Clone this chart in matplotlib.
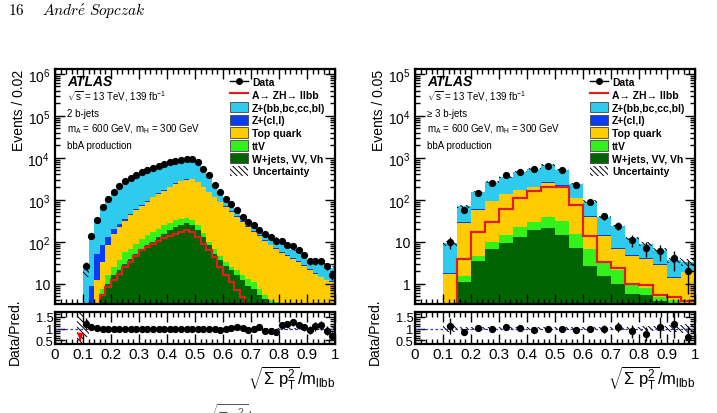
import numpy as np
import matplotlib
matplotlib.use("Agg")
import matplotlib.pyplot as plt
from matplotlib.lines import Line2D
from matplotlib.patches import Patch
from matplotlib.ticker import FuncFormatter, MultipleLocator, LogLocator, NullFormatter

plt.rcParams['font.family'] = ['Liberation Sans', 'DejaVu Sans']
plt.rcParams['mathtext.fontset'] = 'custom'
plt.rcParams['mathtext.rm'] = 'Liberation Sans'
plt.rcParams['mathtext.it'] = 'Liberation Sans'
plt.rcParams['mathtext.bf'] = 'Liberation Sans:bold'
plt.rcParams['mathtext.default'] = 'regular'
plt.rcParams['hatch.linewidth'] = 0.7

# ---------------- 2 b-jets (bins of 0.02 from 0.08 to 1.0) ----------------
edges_2b = np.linspace(0.08, 1.0, 47)
data_2b = [0, 27, 137, 334, 690, 1050, 1510, 2120, 2750, 3320, 3960, 4570, 5160, 5840, 6540,
           7200, 7920, 8530, 8990, 9550, 9400, 7920, 5480, 3800, 2190, 1510, 1050, 800, 556,
           386, 303, 245, 186, 155, 129, 104, 107, 86, 79, 62, 49, 34, 34, 34, 26, 16]
ratio_2b = [0, 1.21, 1.08, 1.02, 1.0, 1.0, 0.99, 1.0, 1.0, 1.0, 1.0, 1.0, 1.0, 1.0, 1.0, 1.0,
            1.0, 1.0, 1.0, 1.0, 1.0, 1.0, 0.99, 1.0, 0.98, 0.93, 1.0, 1.03, 1.08, 1.04, 0.95,
            0.97, 1.05, 0.91, 0.91, 0.84, 1.17, 1.2, 1.26, 1.13, 1.05, 0.95, 1.1, 1.14, 0.91, 0.68]
# upper edge of each stacked layer
wjets_2b = [0, 0, 0, 0.5, 5.3, 10, 16, 21, 30, 39, 52, 68, 82, 98, 130, 155, 186, 225, 254, 282,
            254, 186, 130, 82, 52, 36, 27, 21, 16, 12, 9, 7.6, 5.3, 4.4, 3.5, 3, 2.5, 2, 1.7, 1.5,
            1.2, 1, 0.8, 0.7, 0.6, 0.5]
ttv_2b = [0, 0, 0, 0.8, 7.6, 16, 25, 36, 57, 68, 90, 118, 142, 170, 205, 245, 282, 322, 355, 365,
          322, 245, 165, 98, 68, 47, 33, 25, 21, 16, 13, 11, 7.6, 5.3, 4, 3.6, 3.3, 3, 2.7, 2.4,
          2, 1.8, 1.5, 1.3, 1.1, 1.0]
top_2b = [0, 1.5, 2.5, 12, 33, 82, 150, 230, 320, 430, 560, 730, 910, 1150, 1380, 1660, 2000,
          2400, 2750, 3000, 3050, 2620, 2000, 1510, 1150, 880, 670, 510, 386, 295, 225, 170, 137,
          107, 82, 68, 55, 47, 39, 33, 27, 21, 17, 14.4, 12, 11]
zcl_2b = [0, 2, 9, 52, 82, 129, 205, 270, 350, 460, 590, 760, 945, 1190, 1430, 1720, 2070, 2480,
          2840, 3100, 3150, 2710, 2070, 1560, 1190, 910, 695, 530, 400, 305, 233, 176, 142, 111,
          85, 70, 57, 49, 40, 34, 28, 22, 17.6, 14.9, 12.4, 11.4]
total_2b = [1.0, 22, 127, 327, 690, 1060, 1540, 2120, 2750, 3320, 3960, 4570, 5160, 5840, 6540,
            7200, 7920, 8530, 8990, 9550, 9400, 7920, 5480, 3800, 2190, 1620, 1050, 777, 515, 371,
            319, 253, 177, 170, 142, 124, 91, 72, 63, 55, 47, 36, 31, 30, 29, 24]
signal_2b = [0, 0, 0, 0, 5.3, 8.4, 12, 17, 25, 33, 47, 62, 75, 90, 107, 122, 137, 155, 170, 186,
             170, 130, 90, 62, 43, 25, 16, 11, 7, 4.8, 3.0, 2.0, 1.5, 1.0, 0.8, 0.6, 0.5, 0.4,
             0.3, 0.3, 0.2, 0.2, 0.2, 0.1, 0.1, 0.1]
unc_2b = [0.9, 0.35, 0.1, 0.05, 0.03, 0.02, 0.02, 0.02, 0.02, 0.02, 0.02, 0.02, 0.02, 0.02, 0.02,
          0.02, 0.02, 0.02, 0.02, 0.02, 0.02, 0.02, 0.02, 0.02, 0.02, 0.02, 0.02, 0.02, 0.03, 0.03,
          0.03, 0.03, 0.03, 0.03, 0.03, 0.03, 0.04, 0.04, 0.04, 0.04, 0.05, 0.05, 0.05, 0.06, 0.06,
          0.08]

# ---------------- >= 3 b-jets (bins of 0.05 from 0.10 to 1.0) ----------------
edges_3b = np.linspace(0.10, 1.0, 19)
data_3b = [10, 58, 144, 253, 380, 470, 550, 630, 500, 228, 88, 40, 24, 11, 7, 6, 4, 2]
ratio_3b = [1.1, 0.84, 1.03, 0.99, 1.08, 1.01, 0.93, 1.0, 0.99, 0.96, 0.99, 0.99, 1.07, 0.88,
            0.77, 1.05, 1.2, 0.64]
wjets_3b = [0, 1.1, 3.4, 6.8, 9.3, 12.9, 18.6, 21.2, 14.7, 7.1, 2.7, 1.5, 1.0, 0.58, 0.53, 0.38,
            0.3, 0.25]
ttv_3b = [0, 1.5, 4.7, 9.8, 14.7, 22.4, 30, 39, 32, 15.5, 6.8, 3.3, 2.1, 1.0, 0.79, 0.48, 0.4, 0.35]
top_3b = [1.7, 28.5, 58, 93, 134, 167, 200, 254, 218, 110, 39, 14, 6.8, 4.7, 3.9, 2.8, 1.4, 1.9]
zcl_3b = [1.8, 30, 60, 96, 138, 172, 205, 260, 222, 112, 40, 14.3, 7, 4.8, 4, 2.9, 1.45, 1.95]
total_3b = [9.3, 71, 152, 264, 347, 455, 550, 660, 520, 240, 91, 39, 23.6, 12.3, 9, 6.2, 3.6, 3.3]
signal_3b = [0.1, 3.9, 17, 30, 61, 111, 161, 207, 200, 76, 14, 3.3, 2.4, 1.0, 0.91, 0.55, 0.48, 0.39]
unc_3b = [0.15, 0.08, 0.06, 0.05, 0.05, 0.05, 0.05, 0.05, 0.05, 0.05, 0.06, 0.06, 0.07, 0.08,
          0.1, 0.12, 0.15, 0.2]

labels = ['Z+(bb,bc,cc,bl)', 'Z+(cl,l)', 'Top quark', 'ttV', 'W+jets, VV, Vh']
colors = ['#2ecbee', '#0a3cf5', '#ffcc00', '#33f21a', '#006400']
sig_color = '#dd1f1f'
hatch = '\\\\\\\\\\\\'


def log_fmt(v, pos):
    if v <= 0:
        return ''
    e = int(round(np.log10(v)))
    if abs(v - 10 ** e) > 1e-6 * v:
        return ''
    if e == 0:
        return '1'
    if e == 1:
        return '10'
    return r'$10^{%d}$' % e


def style(ax):
    ax.tick_params(which='both', direction='in', top=True, right=True, width=1.0, labelsize=10)
    ax.tick_params(which='major', length=7)
    ax.tick_params(which='minor', length=3.5)
    for s in ax.spines.values():
        s.set_linewidth(1.6)


def panel(x0, edges, data, ratio, layers, total, signal, unc, ylim, ylabel, info):
    ax = fig.add_axes([x0, 0.2633, 0.3905, 0.5676])
    rx = fig.add_axes([x0, 0.1667, 0.3905, 0.0773])
    centers = 0.5 * (edges[:-1] + edges[1:])
    width = edges[1] - edges[0]
    floor = 1e-3
    base = np.full(len(centers), floor)
    # stack from bottom (W+jets) to top (Z+hf)
    for top, col in zip(layers[::-1], colors[::-1]):
        top = np.maximum(np.maximum(np.array(top, float), base), floor)
        ax.stairs(top, edges, baseline=base, fill=True, color=col, lw=0)
        base = top
    total = np.maximum(np.array(total, float), base)
    ax.stairs(total, edges, baseline=base, fill=True, color=colors[0], lw=0)
    unc = np.array(unc)
    ax.bar(centers, 2 * unc * total, bottom=total * (1 - unc), width=width, fill=False,
           hatch=hatch, lw=0, edgecolor='k')
    ax.stairs(np.maximum(signal, floor), edges, baseline=floor, color=sig_color, lw=1.6)
    data = np.array(data, float)
    m = data > 0
    ax.errorbar(centers[m], data[m], yerr=np.sqrt(data[m]), fmt='o', color='k', ms=4.2,
                lw=1.0, capsize=0)
    ax.set_yscale('log')
    ax.set_xlim(0, 1)
    ax.set_ylim(*ylim)
    ax.yaxis.set_major_locator(LogLocator(base=10, numticks=12))
    ax.yaxis.set_minor_locator(LogLocator(base=10, subs=np.arange(2, 10), numticks=12))
    ax.yaxis.set_major_formatter(FuncFormatter(log_fmt))
    ax.yaxis.set_minor_formatter(NullFormatter())
    ax.xaxis.set_major_locator(MultipleLocator(0.1))
    ax.xaxis.set_minor_locator(MultipleLocator(0.02))
    ax.set_xticklabels([])
    style(ax)
    ax.set_ylabel(ylabel, loc='top', fontsize=10)
    ax.yaxis.set_label_coords(-0.105, 1.0)

    ax.text(0.043, 0.95, 'ATLAS', transform=ax.transAxes, fontsize=10, fontweight='bold',
            style='italic', va='center')
    for i, t in enumerate(info):
        ax.text(0.043, [0.885, 0.813, 0.749, 0.677][i], t, transform=ax.transAxes, fontsize=7,
                va='center')

    handles = [Line2D([], [], color='k', marker='o', ms=4, lw=1.0),
               Line2D([], [], color=sig_color, lw=1.6)]
    handles += [Patch(facecolor=c, edgecolor='#444444', lw=0.6) for c in colors]
    handles += [Patch(facecolor='white', edgecolor='k', hatch=hatch, lw=0)]
    names = ['Data', 'A\u2192 ZH\u2192 llbb'] + labels + ['Uncertainty']
    ax.legend(handles, names, loc='upper left', bbox_to_anchor=(0.6, 1.0), frameon=False,
              prop={'weight': 'bold', 'size': 7.5}, handlelength=1.7, handleheight=1.15,
              labelspacing=0.2, handletextpad=0.4, borderaxespad=0.3)

    # ratio panel
    ratio = np.array(ratio, float)
    rx.bar(centers, 2 * unc, bottom=1 - unc, width=width, fill=False, hatch=hatch, lw=0,
           edgecolor='k')
    rx.axhline(1.0, color='#3333cc', ls=(0, (2, 2)), lw=0.9)
    rlo, rhi = 0.35, 1.7
    ok = (data > 0) & (ratio >= rlo)
    rerr = ratio[ok] / np.sqrt(data[ok])
    rx.errorbar(centers[ok], ratio[ok], yerr=rerr, fmt='o', color='k', ms=4.2, lw=1.0,
                capsize=0)
    for c, r in zip(centers, ratio):
        if r < rlo:
            rx.annotate('', xy=(c, rlo + 0.05), xytext=(c, rlo + 0.3),
                        arrowprops=dict(arrowstyle='-|>', color='red', lw=1.5,
                                        mutation_scale=7))
    rx.set_xlim(0, 1)
    rx.set_ylim(rlo, rhi)
    rx.set_yticks([0.5, 1.0, 1.5])
    rx.yaxis.set_major_formatter(FuncFormatter(lambda v, p: '%g' % v))
    rx.yaxis.set_minor_locator(MultipleLocator(0.1))
    rx.xaxis.set_major_locator(MultipleLocator(0.1))
    rx.xaxis.set_minor_locator(MultipleLocator(0.02))
    rx.xaxis.set_major_formatter(FuncFormatter(lambda v, p: '%g' % round(v, 2)))
    style(rx)
    rx.tick_params(axis='x', which='major', labelsize=11, pad=2)
    rx.tick_params(axis='y', labelsize=9.2, pad=1)
    rx.set_ylabel('Data/Pred.', fontsize=10)
    rx.yaxis.set_label_coords(-0.12, 0.4)
    rx.set_xlabel(r'$\sqrt{\Sigma\ p_{T}^{2}}/m_{llbb}$', loc='right', fontsize=12, labelpad=2)
    return ax, rx


fig = plt.figure(figsize=(7.17, 4.14), dpi=100)

panel(0.0767, edges_2b, data_2b, ratio_2b,
      [zcl_2b, top_2b, ttv_2b, wjets_2b], total_2b, signal_2b, unc_2b,
      (3.3, 1.3e6), 'Events / 0.02',
      [r'$\sqrt{s}$ = 13 TeV, 139 fb$^{-1}$', '2 b-jets',
       r'm$_{A}$ = 600 GeV, m$_{H}$ = 300 GeV', 'bbA production'])
panel(0.5788, edges_3b, data_3b, ratio_3b,
      [zcl_3b, top_3b, ttv_3b, wjets_3b], total_3b, signal_3b, unc_3b,
      (0.33, 1.3e5), 'Events / 0.05',
      [r'$\sqrt{s}$ = 13 TeV, 139 fb$^{-1}$', '\u2265 3 b-jets',
       r'm$_{A}$ = 600 GeV, m$_{H}$ = 300 GeV', 'bbA production'])

# page header and the cut-off caption line of the paper this figure was taken from
fig.text(0.011, 0.975, r'$\mathrm{16}$', math_fontfamily='cm', fontsize=11, va='center')
fig.text(0.058, 0.975, r'$\mathit{Andr\acute{e}\ Sopczak}$', math_fontfamily='cm',
         fontsize=11, va='center')
fig.text(0.285, -0.022, r'$\sqrt{\sum p_T^2}/m_{\ell\ell bb}$', math_fontfamily='cm',
         fontsize=11, va='baseline', color='#555555')

fig.savefig('out.png', dpi=100)
